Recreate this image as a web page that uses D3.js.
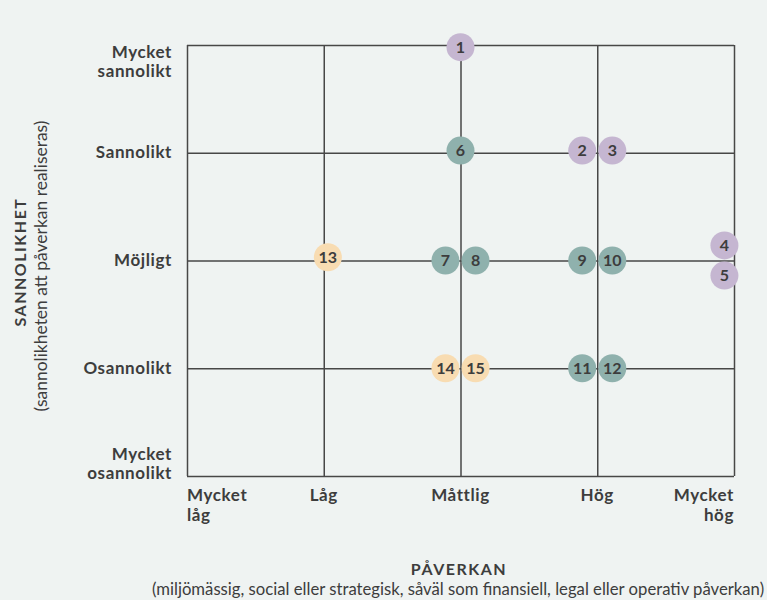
<!DOCTYPE html>
<html><head><meta charset="utf-8">
<script src="https://cdn.jsdelivr.net/npm/d3@7"></script>
<style>
html,body{margin:0;padding:0;background:#eff3f2;}
svg{display:block;font-family:Lato,"Open Sans",sans-serif;}
</style></head><body>
<svg id="c" width="767" height="600"></svg>
<script>
// Data
const impactLevels = ["Mycket låg","Låg","Måttlig","Hög","Mycket hög"];
const likelihoodLevels = ["Mycket osannolikt","Osannolikt","Möjligt","Sannolikt","Mycket sannolikt"];
const riskIds    = [1, 2, 3, 4, 5, 6, 7, 8, 9, 10, 11, 12, 13, 14, 15];
const riskImpact = [2, 2.89, 3.11, 3.93, 3.93, 2, 1.89, 2.11, 2.89, 3.11, 2.89, 3.11, 1.03, 1.89, 2.11];
const riskLikelihood = [3.98, 3.02, 3.02, 2.14, 1.86, 3.02, 2, 2, 2, 2, 1, 1, 2.03, 1, 1];
const riskGroup  = ["a","a","a","a","a","b","b","b","b","b","b","b","c","c","c"];
const xTitle = "PÅVERKAN";
const xSub = "(miljömässig, social eller strategisk, såväl som finansiell, legal eller operativ påverkan)";
const yTitle = "SANNOLIKHET";
const ySub = "(sannolikheten att påverkan realiseras)";

const colors = {a:"#c5b6d1", b:"#8fb1ad", c:"#f8dcb2"};
const textCol = "#3d3d3d";
const lineCol = "#474747";

const svg = d3.select("#c");
const L=187, R=734, T=45, B=476;
const x = d3.scaleLinear().domain([0,4]).range([L,R]);
const y = d3.scaleLinear().domain([0,4]).range([B,T]);

// grid via axes
const gx = svg.append("g").attr("transform",`translate(0,${B})`)
  .call(d3.axisBottom(x).tickValues([0,1,2,3,4]).tickSize(-(B-T)).tickFormat(""));
const gy = svg.append("g").attr("transform",`translate(${L},0)`)
  .call(d3.axisLeft(y).tickValues([0,1,2,3,4]).tickSize(-(R-L)).tickFormat(""));
[gx,gy].forEach(g=>{
  g.select(".domain").remove();
  g.selectAll("line").attr("stroke",lineCol).attr("stroke-width",1.5);
});

// y labels
const ylab = svg.append("g").attr("font-weight","bold").attr("font-size",17).attr("letter-spacing",0.6)
  .attr("fill",textCol).attr("text-anchor","end");
likelihoodLevels.forEach((lab,i)=>{
  const parts = lab.split(" ");
  const t = ylab.append("text").attr("x",L-15);
  if(parts.length===1){
    t.attr("y",y(i)+5.5).text(lab);
  } else {
    const base = i===4 ? y(i)+13 : y(i)-16;
    parts.forEach((p,k)=>t.append("tspan").attr("x",L-15).attr("y",base+k*19).text(p));
  }
});

// x labels
const xlab = svg.append("g").attr("font-weight","bold").attr("font-size",17).attr("letter-spacing",0.6).attr("fill",textCol);
impactLevels.forEach((lab,i)=>{
  const parts = lab.split(" ");
  const anchor = i===0 ? "start" : (i===4 ? "end" : "middle");
  const t = xlab.append("text").attr("text-anchor",anchor);
  parts.forEach((p,k)=>t.append("tspan").attr("x",x(i)).attr("y",B+25+k*19.5).text(p));
});

// axis titles
svg.append("text").attr("x",459).attr("y",575).attr("text-anchor","middle")
  .attr("font-weight","bold").attr("font-size",16).attr("letter-spacing",1.5).attr("fill",textCol).text(xTitle);
const xs = svg.append("text").attr("x",458).attr("y",595).attr("text-anchor","middle")
  .attr("font-size",15).attr("fill",textCol).text(xSub);
// fit subtitle width to reference width
const w = xs.node().getComputedTextLength();
if (w>0) xs.attr("font-size", 15*613/w);

svg.append("text").attr("transform","translate(26,262) rotate(-90)").attr("text-anchor","middle")
  .attr("font-weight","bold").attr("font-size",16).attr("letter-spacing",1.5).attr("fill",textCol).text(yTitle);
const ys = svg.append("text").attr("transform","translate(47,266) rotate(-90)").attr("text-anchor","middle")
  .attr("font-size",15).attr("fill",textCol).text(ySub);
const w2 = ys.node().getComputedTextLength();
if (w2>0) ys.attr("font-size", 15*291/w2);

// bubbles
const pts = riskIds.map((id,i)=>({id, xv:riskImpact[i], yv:riskLikelihood[i], g:riskGroup[i]}));
const bg = svg.append("g");
const nodes = bg.selectAll("g").data(pts).join("g")
  .attr("transform",d=>`translate(${x(d.xv)},${y(d.yv)})`);
nodes.append("circle").attr("r",14).attr("fill",d=>colors[d.g]);
nodes.append("text").attr("text-anchor","middle").attr("dy","0.36em")
  .attr("font-weight","bold").attr("font-size",16).attr("fill",textCol).text(d=>d.id);
</script>
</body></html>
